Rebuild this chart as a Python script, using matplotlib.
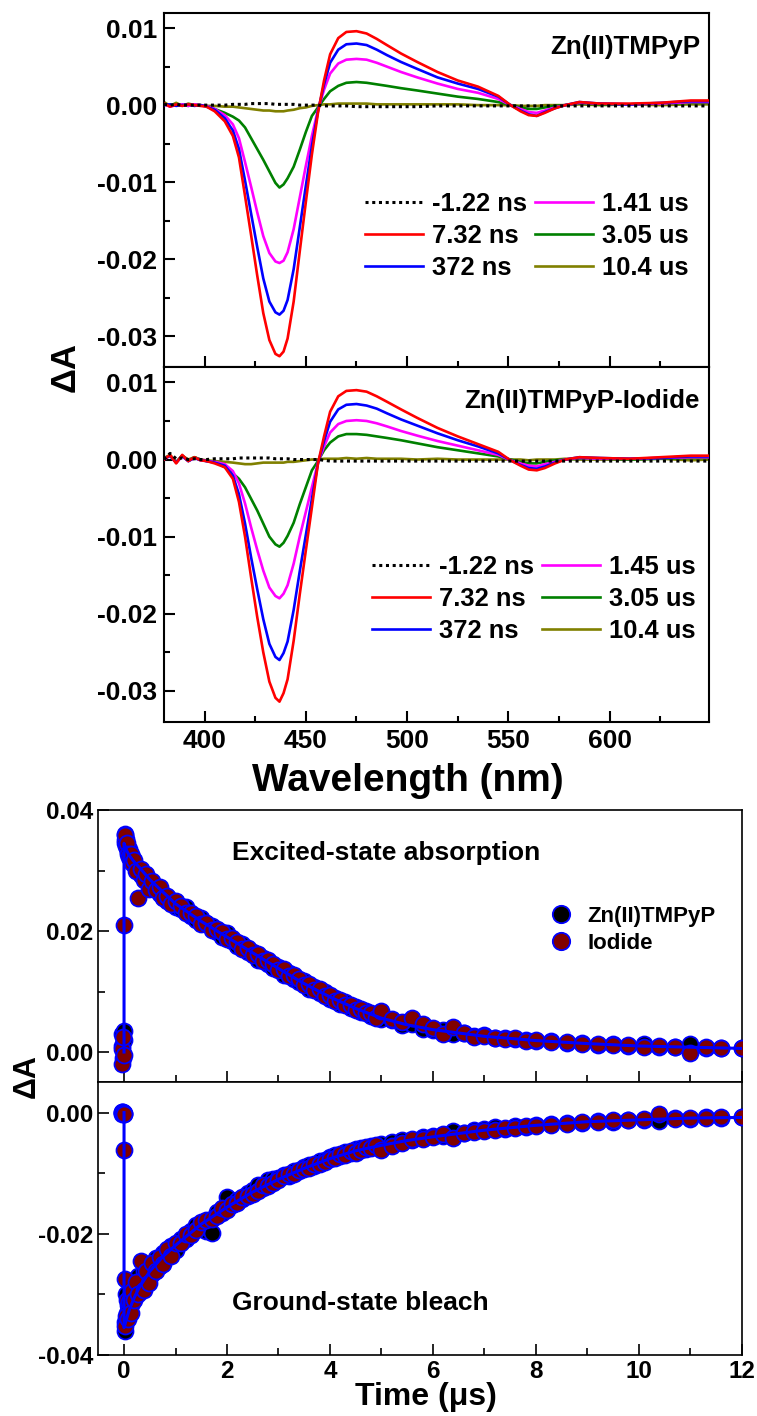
import matplotlib
matplotlib.use('Agg')
import matplotlib.pyplot as plt
from matplotlib.ticker import MultipleLocator, FuncFormatter
from matplotlib.lines import Line2D

plt.rcParams['font.family'] = ['Liberation Sans', 'DejaVu Sans']
plt.rcParams['font.weight'] = 'bold'
plt.rcParams['axes.labelweight'] = 'bold'

# ---------------- transient spectra data ----------------
wavelength = [380, 383, 386, 389, 392, 395, 398, 401, 405, 410, 414, 417, 420, 423, 426, 429, 432, 435,
              437, 439, 441, 444, 447, 450, 453, 456, 459, 462, 466, 470, 475, 480, 485, 490, 497, 505,
              515, 525, 535, 545, 551, 556, 560, 564, 568, 573, 578, 585, 595, 610, 625, 640, 649]

zn_m122ns = [0.0001, 0.0000, 0.0001, 0.0000, 0.0000, 0.0000, 0.0000, 0.0000,
             0.0000, 0.0000, 0.0001, 0.0001, 0.0001, 0.0002, 0.0002, 0.0002, 0.0002, 0.0001,
             0.0001, 0.0001, 0.0001, 0.0001, 0.0000, 0.0000, 0.0000, 0.0000, -0.0001, -0.0001,
             -0.0001, -0.0001, -0.0002, -0.0002, -0.0002, -0.0002, -0.0002, -0.0002, -0.0001, -0.0001,
             -0.0001, -0.0001, -0.0001, -0.0001, -0.0001, -0.0001, -0.0001, -0.0001, -0.0001, -0.0001,
             -0.0001, -0.0001, -0.0001, -0.0001, -0.0001]
zn_732ns = [0.0002, -0.0002, 0.0001, -0.0001, 0.0001, 0.0000, -0.0001, -0.0002,
            -0.0008, -0.0021, -0.0040, -0.0068, -0.0118, -0.0169, -0.0221, -0.0270, -0.0305, -0.0323,
            -0.0326, -0.0320, -0.0303, -0.0255, -0.0190, -0.0126, -0.0064, -0.0010, 0.0032, 0.0066,
            0.0087, 0.0095, 0.0096, 0.0093, 0.0086, 0.0078, 0.0067, 0.0056, 0.0043, 0.0032,
            0.0024, 0.0012, 0.0000, -0.0008, -0.0013, -0.0014, -0.0010, -0.0004, 0.0000, 0.0004,
            0.0002, 0.0002, 0.0003, 0.0006, 0.0006]
zn_372ns = [0.0000, 0.0001, -0.0001, 0.0000, 0.0001, -0.0001, 0.0000, -0.0002,
            -0.0006, -0.0017, -0.0033, -0.0057, -0.0098, -0.0141, -0.0184, -0.0225, -0.0255, -0.0269,
            -0.0272, -0.0267, -0.0253, -0.0213, -0.0159, -0.0105, -0.0053, -0.0008, 0.0027, 0.0055,
            0.0072, 0.0079, 0.0080, 0.0078, 0.0072, 0.0065, 0.0056, 0.0047, 0.0036, 0.0028,
            0.0021, 0.0011, 0.0000, -0.0007, -0.0012, -0.0014, -0.0009, -0.0004, 0.0000, 0.0004,
            0.0002, 0.0001, 0.0003, 0.0005, 0.0005]
zn_141us = [0.0001, -0.0002, 0.0000, 0.0001, -0.0001, 0.0001, 0.0000, -0.0001,
            -0.0005, -0.0013, -0.0025, -0.0043, -0.0074, -0.0106, -0.0139, -0.0170, -0.0192, -0.0203,
            -0.0205, -0.0202, -0.0191, -0.0161, -0.0120, -0.0079, -0.0040, -0.0006, 0.0020, 0.0041,
            0.0054, 0.0059, 0.0060, 0.0059, 0.0055, 0.0050, 0.0043, 0.0036, 0.0028, 0.0021,
            0.0016, 0.0008, 0.0000, -0.0005, -0.0009, -0.0010, -0.0007, -0.0003, 0.0000, 0.0003,
            0.0002, 0.0001, 0.0002, 0.0004, 0.0004]
zn_305us = [0.0002, -0.0001, 0.0001, 0.0000, -0.0001, 0.0001, 0.0000, -0.0001,
            -0.0005, -0.0010, -0.0015, -0.0020, -0.0029, -0.0043, -0.0057, -0.0071, -0.0086, -0.0101,
            -0.0107, -0.0103, -0.0095, -0.0080, -0.0058, -0.0035, -0.0014, -0.0003, 0.0008, 0.0018,
            0.0025, 0.0029, 0.0030, 0.0029, 0.0027, 0.0025, 0.0022, 0.0019, 0.0015, 0.0011,
            0.0008, 0.0004, 0.0000, -0.0003, -0.0005, -0.0005, -0.0003, -0.0001, 0.0000, 0.0002,
            0.0001, 0.0001, 0.0002, 0.0003, 0.0003]
zn_104us = [0.0004, -0.0001, 0.0003, -0.0001, 0.0002, 0.0000, 0.0000, -0.0001,
            -0.0001, -0.0002, -0.0002, -0.0003, -0.0004, -0.0005, -0.0006, -0.0007, -0.0007, -0.0008,
            -0.0008, -0.0008, -0.0007, -0.0006, -0.0004, -0.0003, -0.0001, 0.0000, 0.0001, 0.0001,
            0.0002, 0.0002, 0.0002, 0.0002, 0.0001, 0.0001, 0.0001, 0.0001, 0.0001, 0.0001,
            0.0000, 0.0000, 0.0000, -0.0001, -0.0001, -0.0001, 0.0000, 0.0000, 0.0000, 0.0001,
            0.0000, 0.0001, 0.0000, 0.0001, 0.0001]

io_m122ns = [0.0000, 0.0008, 0.0001, 0.0002, 0.0000, 0.0001, 0.0000, 0.0000,
             0.0001, 0.0001, 0.0001, 0.0002, 0.0002, 0.0002, 0.0002, 0.0002, 0.0002, 0.0001,
             0.0001, 0.0001, 0.0001, 0.0000, 0.0000, 0.0000, 0.0000, 0.0000, -0.0001, -0.0002,
             -0.0002, -0.0002, -0.0002, -0.0002, -0.0002, -0.0002, -0.0002, -0.0002, -0.0002, -0.0002,
             -0.0002, -0.0002, -0.0002, -0.0002, -0.0002, -0.0002, -0.0002, -0.0002, -0.0002, -0.0002,
             -0.0002, -0.0002, -0.0002, -0.0002, -0.0002]
io_732ns = [0.0000, 0.0006, -0.0005, 0.0006, -0.0002, 0.0003, -0.0001, -0.0002,
            -0.0005, -0.0010, -0.0025, -0.0055, -0.0100, -0.0153, -0.0204, -0.0250, -0.0288, -0.0309,
            -0.0314, -0.0303, -0.0285, -0.0235, -0.0175, -0.0118, -0.0062, -0.0005, 0.0030, 0.0062,
            0.0082, 0.0089, 0.0090, 0.0088, 0.0082, 0.0075, 0.0065, 0.0054, 0.0041, 0.0030,
            0.0020, 0.0010, -0.0001, -0.0008, -0.0013, -0.0014, -0.0011, -0.0005, 0.0000, 0.0003,
            0.0002, 0.0001, 0.0003, 0.0005, 0.0005]
io_372ns = [0.0001, 0.0005, -0.0004, 0.0005, -0.0002, 0.0002, -0.0001, -0.0002,
            -0.0004, -0.0008, -0.0021, -0.0045, -0.0083, -0.0127, -0.0168, -0.0207, -0.0239, -0.0256,
            -0.0260, -0.0251, -0.0236, -0.0195, -0.0145, -0.0098, -0.0051, -0.0005, 0.0024, 0.0049,
            0.0065, 0.0071, 0.0072, 0.0070, 0.0066, 0.0060, 0.0052, 0.0044, 0.0034, 0.0025,
            0.0017, 0.0008, -0.0001, -0.0007, -0.0011, -0.0012, -0.0009, -0.0004, 0.0000, 0.0003,
            0.0002, 0.0001, 0.0002, 0.0004, 0.0004]
io_145us = [0.0000, 0.0005, -0.0004, 0.0004, -0.0002, 0.0002, 0.0000, -0.0002,
            -0.0003, -0.0006, -0.0015, -0.0031, -0.0057, -0.0088, -0.0117, -0.0144, -0.0166, -0.0177,
            -0.0180, -0.0174, -0.0163, -0.0135, -0.0100, -0.0068, -0.0036, -0.0004, 0.0017, 0.0035,
            0.0046, 0.0050, 0.0051, 0.0050, 0.0047, 0.0043, 0.0037, 0.0031, 0.0024, 0.0018,
            0.0012, 0.0006, -0.0001, -0.0005, -0.0008, -0.0009, -0.0006, -0.0003, 0.0000, 0.0002,
            0.0001, 0.0001, 0.0002, 0.0003, 0.0003]
io_305us = [0.0001, 0.0005, -0.0004, 0.0005, -0.0002, 0.0003, 0.0000, -0.0002,
            -0.0003, -0.0010, -0.0018, -0.0025, -0.0036, -0.0051, -0.0066, -0.0083, -0.0100, -0.0110,
            -0.0113, -0.0108, -0.0099, -0.0082, -0.0058, -0.0036, -0.0014, -0.0002, 0.0012, 0.0022,
            0.0030, 0.0033, 0.0033, 0.0032, 0.0030, 0.0028, 0.0025, 0.0021, 0.0016, 0.0012,
            0.0008, 0.0004, 0.0000, -0.0003, -0.0005, -0.0005, -0.0003, -0.0001, 0.0000, 0.0001,
            0.0001, 0.0000, 0.0001, 0.0002, 0.0002]
io_104us = [0.0002, 0.0006, -0.0003, 0.0005, 0.0000, 0.0003, 0.0000, -0.0001,
            -0.0002, -0.0003, -0.0004, -0.0005, -0.0006, -0.0006, -0.0005, -0.0004, -0.0004, -0.0004,
            -0.0004, -0.0004, -0.0003, -0.0003, -0.0002, -0.0001, 0.0000, 0.0000, 0.0001, 0.0001,
            0.0001, 0.0002, 0.0001, 0.0002, 0.0001, 0.0001, 0.0001, 0.0000, 0.0001, 0.0000,
            0.0000, 0.0000, 0.0000, 0.0000, -0.0001, 0.0000, 0.0000, 0.0000, 0.0001, 0.0000,
            0.0000, 0.0000, 0.0001, -0.0001, 0.0000]

zn_labels = ['-1.22 ns', '7.32 ns', '372 ns', '1.41 us', '3.05 us', '10.4 us']
io_labels = ['-1.22 ns', '7.32 ns', '372 ns', '1.45 us', '3.05 us', '10.4 us']

# ---------------- kinetics data ----------------
time_us = [-0.04, -0.03, -0.02, -0.01, 0.0,
           0.01, 0.02, 0.04, 0.06, 0.08, 0.10, 0.13, 0.16, 0.20, 0.24, 0.28, 0.33, 0.38, 0.43, 0.49,
           0.55, 0.62, 0.69, 0.76, 0.84, 0.92, 1.00,
           1.1, 1.2, 1.3, 1.4, 1.5, 1.6, 1.7, 1.8, 1.9, 2.0, 2.1, 2.2, 2.3, 2.4, 2.5, 2.6, 2.7, 2.8,
           2.9, 3.0, 3.1, 3.2, 3.3, 3.4, 3.5, 3.6, 3.7, 3.8, 3.9, 4.0, 4.1, 4.2, 4.3, 4.4, 4.5, 4.6,
           4.7, 4.8, 4.9, 5.0,
           5.2, 5.4, 5.6, 5.8, 6.0, 6.2, 6.4, 6.6, 6.8, 7.0, 7.2, 7.4, 7.6, 7.8, 8.0,
           8.3, 8.6, 8.9, 9.2, 9.5, 9.8, 10.1, 10.4, 10.7, 11.0, 11.3, 11.6, 12.0]

esa_zn = [0.0010, 0.0030, -0.0010, 0.0020, 0.0035,
          0.0360, 0.0345, 0.0352, 0.0338, 0.0330, 0.0335, 0.0318, 0.0322, 0.0310, 0.0305, 0.0300,
          0.0292, 0.0290, 0.0284, 0.0278, 0.0272, 0.0270, 0.0262, 0.0262, 0.0250, 0.0251, 0.0240,
          0.0236, 0.0240, 0.0224, 0.0218, 0.0222, 0.0213, 0.0209, 0.0198, 0.0190, 0.0196, 0.0183,
          0.0176, 0.0178, 0.0165, 0.0166, 0.0152, 0.0156, 0.0146, 0.0139, 0.0141, 0.0128, 0.0131,
          0.0120, 0.0115, 0.0117, 0.0104, 0.0108, 0.0097, 0.0099, 0.0088, 0.0089, 0.0080, 0.0082,
          0.0073, 0.0074, 0.0066, 0.0068, 0.0060, 0.0062, 0.0054,
          0.0053, 0.0045, 0.0046, 0.0038, 0.0036, 0.0037, 0.0030, 0.0031, 0.0027, 0.0028, 0.0023,
          0.0024, 0.0021, 0.0020, 0.0018,
          0.0018, 0.0015, 0.0015, 0.0012, 0.0013, 0.0010, 0.0013, 0.0009, 0.0008, 0.0014, 0.0007,
          0.0006, 0.0006]
esa_io = [-0.0020, 0.0005, 0.0025, -0.0005, 0.0210,
          0.0350, 0.0358, 0.0340, 0.0345, 0.0328, 0.0322, 0.0328, 0.0312, 0.0318, 0.0300, 0.0255,
          0.0302, 0.0285, 0.0294, 0.0270, 0.0283, 0.0268, 0.0272, 0.0255, 0.0258, 0.0244, 0.0250,
          0.0242, 0.0230, 0.0230, 0.0225, 0.0212, 0.0214, 0.0201, 0.0204, 0.0198, 0.0186, 0.0188,
          0.0182, 0.0170, 0.0172, 0.0160, 0.0162, 0.0150, 0.0152, 0.0146, 0.0135, 0.0137, 0.0125,
          0.0127, 0.0121, 0.0110, 0.0112, 0.0102, 0.0104, 0.0093, 0.0094, 0.0085, 0.0086, 0.0077,
          0.0078, 0.0070, 0.0071, 0.0064, 0.0064, 0.0057, 0.0068,
          0.0055, 0.0050, 0.0056, 0.0046, 0.0040, 0.0030, 0.0041, 0.0031, 0.0025, 0.0027, 0.0024,
          0.0022, 0.0023, 0.0019, 0.0020,
          0.0016, 0.0017, 0.0013, 0.0014, 0.0011, 0.0012, 0.0009, 0.0010, 0.0009, -0.0001, 0.0008,
          0.0007, 0.0006]
gsb_zn = [0.0001, -0.0002, 0.0001, 0.0000, -0.0002,
          -0.0360, -0.0345, -0.0300, -0.0330, -0.0318, -0.0322, -0.0300, -0.0315, -0.0290, -0.0298,
          -0.0270, -0.0289, -0.0262, -0.0278, -0.0250, -0.0266, -0.0240, -0.0253, -0.0232, -0.0238,
          -0.0220, -0.0226,
          -0.0209, -0.0208, -0.0195, -0.0186, -0.0186, -0.0196, -0.0199, -0.0164, -0.0165, -0.0140,
          -0.0153, -0.0144, -0.0143, -0.0133, -0.0127, -0.0120, -0.0125, -0.0112, -0.0110, -0.0108,
          -0.0103, -0.0104, -0.0096, -0.0097, -0.0089, -0.0087, -0.0088, -0.0080, -0.0078, -0.0074,
          -0.0070, -0.0072, -0.0065, -0.0067, -0.0060, -0.0058, -0.0060, -0.0055, -0.0055, -0.0052,
          -0.0049, -0.0046, -0.0046, -0.0040, -0.0038, -0.0039, -0.0031, -0.0034, -0.0028, -0.0027,
          -0.0024, -0.0027, -0.0022, -0.0023, -0.0020,
          -0.0019, -0.0017, -0.0017, -0.0014, -0.0015, -0.0012, -0.0013, -0.0014, -0.0009, -0.0010,
          -0.0008, -0.0009, -0.0008]
gsb_io = [-0.0001, 0.0001, 0.0000, -0.0002, -0.0062,
          -0.0275, -0.0352, -0.0335, -0.0310, -0.0340, -0.0312, -0.0330, -0.0295, -0.0310, -0.0280,
          -0.0300, -0.0245, -0.0292, -0.0262, -0.0282, -0.0248, -0.0262, -0.0238, -0.0250, -0.0225,
          -0.0236, -0.0215,
          -0.0215, -0.0200, -0.0202, -0.0193, -0.0180, -0.0178, -0.0176, -0.0170, -0.0158, -0.0160,
          -0.0150, -0.0149, -0.0140, -0.0138, -0.0134, -0.0130, -0.0120, -0.0121, -0.0116, -0.0112,
          -0.0105, -0.0102, -0.0101, -0.0094, -0.0093, -0.0091, -0.0085, -0.0084, -0.0081, -0.0077,
          -0.0075, -0.0069, -0.0070, -0.0064, -0.0066, -0.0062, -0.0057, -0.0059, -0.0054, -0.0062,
          -0.0055, -0.0050, -0.0043, -0.0044, -0.0041, -0.0036, -0.0042, -0.0033, -0.0032, -0.0030,
          -0.0028, -0.0025, -0.0025, -0.0022, -0.0022,
          -0.0020, -0.0018, -0.0015, -0.0016, -0.0013, -0.0013, -0.0011, -0.0002, -0.0010, -0.0009,
          -0.0009, -0.0008, -0.0007]

fit_time = [0.0, 0.0, 0.05, 0.1, 0.2, 0.3, 0.5, 0.75, 1.0, 1.5, 2.0, 2.5, 3.0, 3.5, 4.0, 4.5, 5.0,
            5.5, 6.0, 7.0, 8.0, 9.0, 10.0, 11.0, 12.0]
esa_fit = [0.0, 0.0345, 0.0333, 0.0325, 0.0314, 0.0305, 0.0285, 0.0265, 0.0245, 0.0216, 0.0190,
           0.0164, 0.0138, 0.0113, 0.0091, 0.0072, 0.0056, 0.0045, 0.0037, 0.0026, 0.0019, 0.0014,
           0.0010, 0.0008, 0.0006]
gsb_fit = [0.0, -0.0355, -0.0340, -0.0326, -0.0305, -0.0288, -0.0262, -0.0238, -0.0219, -0.0184,
           -0.0156, -0.0131, -0.0110, -0.0092, -0.0076, -0.0063, -0.0054, -0.0046, -0.0040, -0.0029,
           -0.0021, -0.0015, -0.0012, -0.0009, -0.0008]

# ---------------- figure ----------------
W, H = 757, 1416
fig = plt.figure(figsize=(W / 100, H / 100), dpi=100)


def frac(x0, y0, x1, y1):
    return [x0 / W, 1 - y1 / H, (x1 - x0) / W, (y1 - y0) / H]


ax1 = fig.add_axes(frac(164, 12.7, 709, 367))
ax2 = fig.add_axes(frac(164, 367, 709, 721.7))
ax3 = fig.add_axes(frac(98.3, 810, 741.7, 1082.3))
ax4 = fig.add_axes(frac(98.3, 1082.3, 741.7, 1355))

colors = ['black', '#ff0000', '#0000ff', '#ff00ff', '#008000', '#808000']
styles = [(0, (1, 1.2)), '-', '-', '-', '-', '-']
zorders = [6, 5, 4, 3, 2, 1]


def fmt2(v, p):
    return '0.00' if abs(v) < 1e-9 else f'{v:.2f}'


def draw_spectra(ax, series, labels, title, leg_anchor):
    handles = []
    for s, c, ls, lab, z in zip(series, colors, styles, labels, zorders):
        lw = 2.2 if z == 6 else 1.9
        h, = ax.plot(wavelength, s, color=c, ls=ls, lw=lw, label=lab, zorder=z)
        handles.append(h)
    ax.set_xlim(380, 649)
    ax.set_ylim(-0.034, 0.012)
    ax.xaxis.set_major_locator(MultipleLocator(50))
    ax.xaxis.set_minor_locator(MultipleLocator(25))
    ax.yaxis.set_major_locator(MultipleLocator(0.01))
    ax.yaxis.set_minor_locator(MultipleLocator(0.005))
    ax.yaxis.set_major_formatter(FuncFormatter(fmt2))
    ax.tick_params(which='both', direction='in', top=False, right=False, width=1.5,
                   labelsize=19, pad=5)
    ax.tick_params(which='major', length=8)
    ax.tick_params(which='minor', length=4.5)
    for sp in ax.spines.values():
        sp.set_linewidth(1.5)
    ax.text(0.9835, 0.904, title, transform=ax.transAxes, ha='right', va='center',
            fontsize=18.7, fontweight='bold')
    ax.legend(handles=handles, ncol=2, loc='upper left', bbox_to_anchor=leg_anchor,
              frameon=False, fontsize=18.4, handlelength=2.27, handletextpad=0.34,
              columnspacing=0.32, labelspacing=0.32, borderpad=0, borderaxespad=0)


draw_spectra(ax1, [zn_m122ns, zn_732ns, zn_372ns, zn_141us, zn_305us, zn_104us], zn_labels,
             'Zn(II)TMPyP', (0.369, 0.494))
draw_spectra(ax2, [io_m122ns, io_732ns, io_372ns, io_145us, io_305us, io_104us], io_labels,
             'Zn(II)TMPyP-Iodide', (0.382, 0.470))
ax1.tick_params(labelbottom=False)
ax2.set_xlabel('Wavelength (nm)', fontsize=28, fontweight='bold', labelpad=3)
ax2.xaxis.set_label_coords((407.5 - 164) / 545, -0.117)
fig.text(65 / W, 1 - 367 / H, 'ΔA', rotation=90, ha='center', va='center',
         fontsize=25, fontweight='bold')

# kinetics
edge = '#0000ff'
ms = 11.5
for ax, zn, io, fit, txt, txty in [(ax3, esa_zn, esa_io, esa_fit, 'Excited-state absorption', 0.842),
                                   (ax4, gsb_zn, gsb_io, gsb_fit, 'Ground-state bleach', 0.19)]:
    ax.plot(time_us, zn, 'o', ms=ms, mfc='black', mec=edge, mew=1.3, zorder=2)
    ax.plot(time_us, io, 'o', ms=ms, mfc='#800000', mec=edge, mew=1.3, zorder=3)
    ax.plot(fit_time, fit, '-', color='#0000ff', lw=2.2, zorder=4)
    ax.set_xlim(-0.5, 12)
    ax.xaxis.set_major_locator(MultipleLocator(2))
    ax.xaxis.set_minor_locator(MultipleLocator(1))
    ax.yaxis.set_major_locator(MultipleLocator(0.02))
    ax.yaxis.set_minor_locator(MultipleLocator(0.01))
    ax.yaxis.set_major_formatter(FuncFormatter(fmt2))
    ax.tick_params(which='both', direction='in', top=False, right=False, width=1.2,
                   labelsize=17.5, pad=3.5)
    ax.tick_params(which='major', length=8)
    ax.tick_params(which='minor', length=5)
    for sp in ax.spines.values():
        sp.set_linewidth(1.2)
    ax.text(0.208, txty, txt, transform=ax.transAxes, ha='left', va='center',
            fontsize=19, fontweight='bold')

ax3.set_ylim(-0.005, 0.04)
ax4.set_ylim(-0.04, 0.005)
ax3.tick_params(labelbottom=False)
ax4.set_xlabel('Time (μs)', fontsize=23, fontweight='bold', labelpad=0)
ax4.xaxis.set_label_coords((426 - 98.3) / 643.4, -0.098)
fig.text(27 / W, 1 - 1076 / H, 'ΔA', rotation=90, ha='center', va='center',
         fontsize=22, fontweight='bold')

leg_handles = [Line2D([], [], ls='none', marker='o', ms=12.5, mfc='black', mec=edge, mew=1.3),
               Line2D([], [], ls='none', marker='o', ms=12.5, mfc='#800000', mec=edge, mew=1.3)]
ax3.legend(leg_handles, ['Zn(II)TMPyP', 'Iodide'], loc='upper left', bbox_to_anchor=(0.702, 0.647),
           frameon=False, fontsize=16, handlelength=1.0, handletextpad=0.68, labelspacing=0.25,
           borderpad=0, borderaxespad=0)

fig.savefig('out.png', dpi=100)
